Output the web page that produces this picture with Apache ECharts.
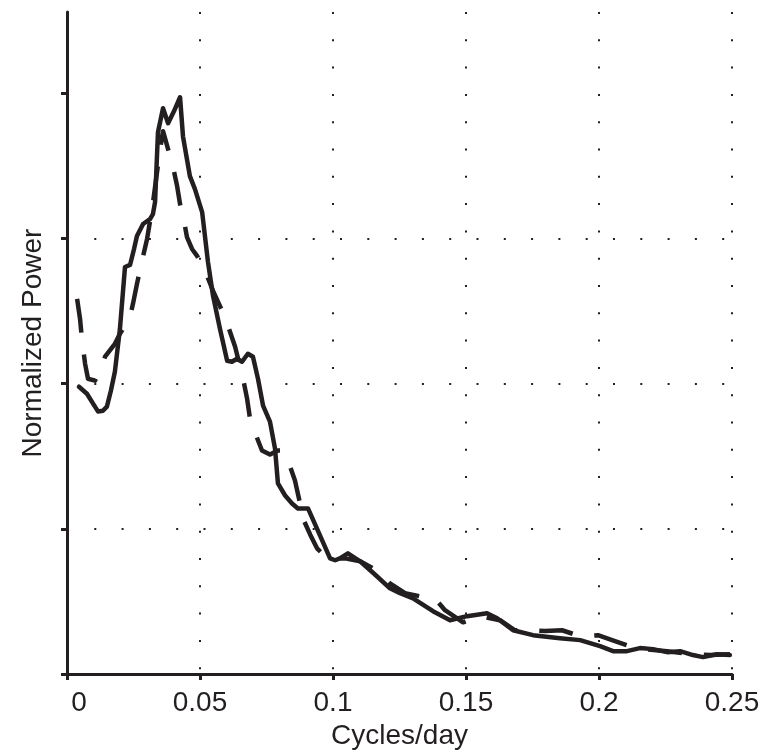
<!DOCTYPE html>
<html>
<head>
<meta charset="utf-8">
<script src="https://cdn.jsdelivr.net/npm/echarts@6/dist/echarts.min.js"></script>
<style>
  html, body { margin: 0; padding: 0; background: #fff; }
  #chart { width: 766px; height: 755px; }
</style>
</head>
<body>
<div id="chart"></div>
<script>
// Tick labels for the frequency axis
var xTickValues = [0, 0.05, 0.1, 0.15, 0.2, 0.25];
var yTickValues = [0, 1, 2, 3, 4];

// Solid curve: [cycles/day, normalized power]
var solidSeries = [
  [0.0045, 1.979], [0.0075, 1.931], [0.0098, 1.863], [0.0117, 1.808], [0.0135, 1.814],
  [0.0150, 1.842], [0.0165, 1.952], [0.0180, 2.082], [0.0199, 2.378], [0.0218, 2.804],
  [0.0237, 2.818], [0.0252, 2.928], [0.0263, 3.017], [0.0286, 3.100], [0.0312, 3.134],
  [0.0323, 3.168], [0.0331, 3.251], [0.0342, 3.732], [0.0361, 3.897], [0.0380, 3.794],
  [0.0402, 3.876], [0.0425, 3.973], [0.0436, 3.704], [0.0462, 3.430], [0.0481, 3.340],
  [0.0508, 3.182], [0.0530, 2.838], [0.0549, 2.605], [0.0575, 2.378], [0.0602, 2.158],
  [0.0620, 2.151], [0.0639, 2.172], [0.0658, 2.151], [0.0680, 2.206], [0.0699, 2.186],
  [0.0718, 2.034], [0.0737, 1.849], [0.0763, 1.739], [0.0782, 1.553], [0.0793, 1.313],
  [0.0820, 1.230], [0.0846, 1.175], [0.0868, 1.141], [0.0906, 1.141], [0.0951, 0.955],
  [0.0989, 0.797], [0.1008, 0.784], [0.1026, 0.797], [0.1056, 0.832], [0.1102, 0.777],
  [0.1165, 0.674], [0.1214, 0.591], [0.1252, 0.557], [0.1301, 0.522], [0.1376, 0.433],
  [0.1440, 0.371], [0.1504, 0.399], [0.1579, 0.419], [0.1617, 0.385], [0.1677, 0.302],
  [0.1752, 0.268], [0.1853, 0.247], [0.1929, 0.234], [0.2004, 0.192], [0.2053, 0.158],
  [0.2105, 0.158], [0.2154, 0.179], [0.2203, 0.172], [0.2256, 0.151], [0.2305, 0.158],
  [0.2353, 0.131], [0.2391, 0.117], [0.2444, 0.137], [0.2492, 0.131]
];

// Dashed curve: [cycles/day, normalized power]
var dashedSeries = [
  [0.0038, 2.584], [0.0049, 2.447], [0.0056, 2.309], [0.0068, 2.137], [0.0079, 2.034],
  [0.0105, 2.021], [0.0124, 2.089], [0.0143, 2.186], [0.0180, 2.275], [0.0199, 2.344],
  [0.0218, 2.399], [0.0237, 2.460], [0.0248, 2.550], [0.0263, 2.687], [0.0282, 2.845],
  [0.0301, 2.997], [0.0320, 3.203], [0.0335, 3.409], [0.0350, 3.615], [0.0361, 3.739],
  [0.0380, 3.615], [0.0398, 3.498], [0.0414, 3.361], [0.0425, 3.237], [0.0440, 3.120],
  [0.0451, 3.010], [0.0470, 2.928], [0.0489, 2.880], [0.0519, 2.777], [0.0549, 2.639],
  [0.0583, 2.502], [0.0609, 2.378], [0.0632, 2.254], [0.0647, 2.144], [0.0662, 2.034],
  [0.0677, 1.897], [0.0688, 1.759], [0.0711, 1.643], [0.0733, 1.540], [0.0763, 1.512],
  [0.0793, 1.540], [0.0812, 1.540], [0.0835, 1.450], [0.0857, 1.333], [0.0872, 1.210],
  [0.0887, 1.072], [0.0914, 0.962], [0.0940, 0.866], [0.0970, 0.811], [0.1000, 0.797],
  [0.1045, 0.797], [0.1102, 0.777], [0.1165, 0.715], [0.1214, 0.625], [0.1271, 0.557],
  [0.1327, 0.536], [0.1383, 0.522], [0.1421, 0.440], [0.1489, 0.357], [0.1553, 0.399],
  [0.1628, 0.371], [0.1684, 0.302], [0.1729, 0.302], [0.1797, 0.296], [0.1861, 0.302],
  [0.1929, 0.261], [0.1996, 0.268], [0.2060, 0.227], [0.2117, 0.192], [0.2173, 0.172],
  [0.2256, 0.158], [0.2342, 0.137], [0.2417, 0.131], [0.2492, 0.137]
];

var ink = '#231f20';
var font = 'Liberation Sans, Arial, Helvetica, sans-serif';

var chart = echarts.init(document.getElementById('chart'), null, { renderer: 'canvas' });
chart.setOption({
  animation: false,
  backgroundColor: '#ffffff',
  grid: { left: 67, right: 34, top: 12, bottom: 79, containLabel: false },
  xAxis: {
    type: 'value',
    min: 0,
    max: 0.25,
    interval: 0.05,
    name: 'Cycles/day',
    nameLocation: 'middle',
    nameGap: 43,
    nameTextStyle: { fontFamily: font, fontSize: 28, color: ink },
    axisLine: { show: true, onZero: false, lineStyle: { color: ink, width: 3 } },
    axisTick: { show: true, inside: false, length: 6, lineStyle: { color: ink, width: 3 } },
    axisLabel: {
      show: true, margin: 15, fontFamily: font, fontSize: 28, color: ink,
      customValues: xTickValues,
      formatter: function (v) {
        var s = String(+v.toFixed(2));
        return v === 0 ? '{z|' + s + '}' : s;
      },
      rich: {
        z: { fontFamily: font, fontSize: 28, color: ink, padding: [0, 0, 0, 24] }
      }
    },
    splitLine: {
      show: true, showMinLine: false, showMaxLine: true,
      lineStyle: { color: ink, width: 2, type: [2, 25.3] }
    }
  },
  yAxis: {
    type: 'value',
    min: 0,
    max: 4.56,
    interval: 1,
    name: 'Normalized Power',
    nameLocation: 'middle',
    nameGap: 20,
    nameTextStyle: { fontFamily: font, fontSize: 28, color: ink },
    axisLine: { show: true, onZero: false, lineStyle: { color: ink, width: 3 } },
    axisTick: { show: true, inside: false, length: 6, customValues: yTickValues, lineStyle: { color: ink, width: 3 } },
    axisLabel: { show: false },
    splitLine: {
      show: true, showMinLine: false, showMaxLine: false,
      lineStyle: { color: ink, width: 2, type: [2, 25.3] }
    }
  },
  series: [
    {
      name: 'dashed',
      type: 'line',
      data: dashedSeries,
      showSymbol: false,
      symbol: 'none',
      smooth: false,
      z: 2,
      lineStyle: { color: ink, width: 4.5, type: [34, 22], cap: 'butt', join: 'round' }
    },
    {
      name: 'solid',
      type: 'line',
      data: solidSeries,
      showSymbol: false,
      symbol: 'none',
      smooth: false,
      z: 3,
      lineStyle: { color: ink, width: 4.5, type: 'solid', cap: 'round', join: 'round' }
    }
  ]
});
</script>
</body>
</html>
